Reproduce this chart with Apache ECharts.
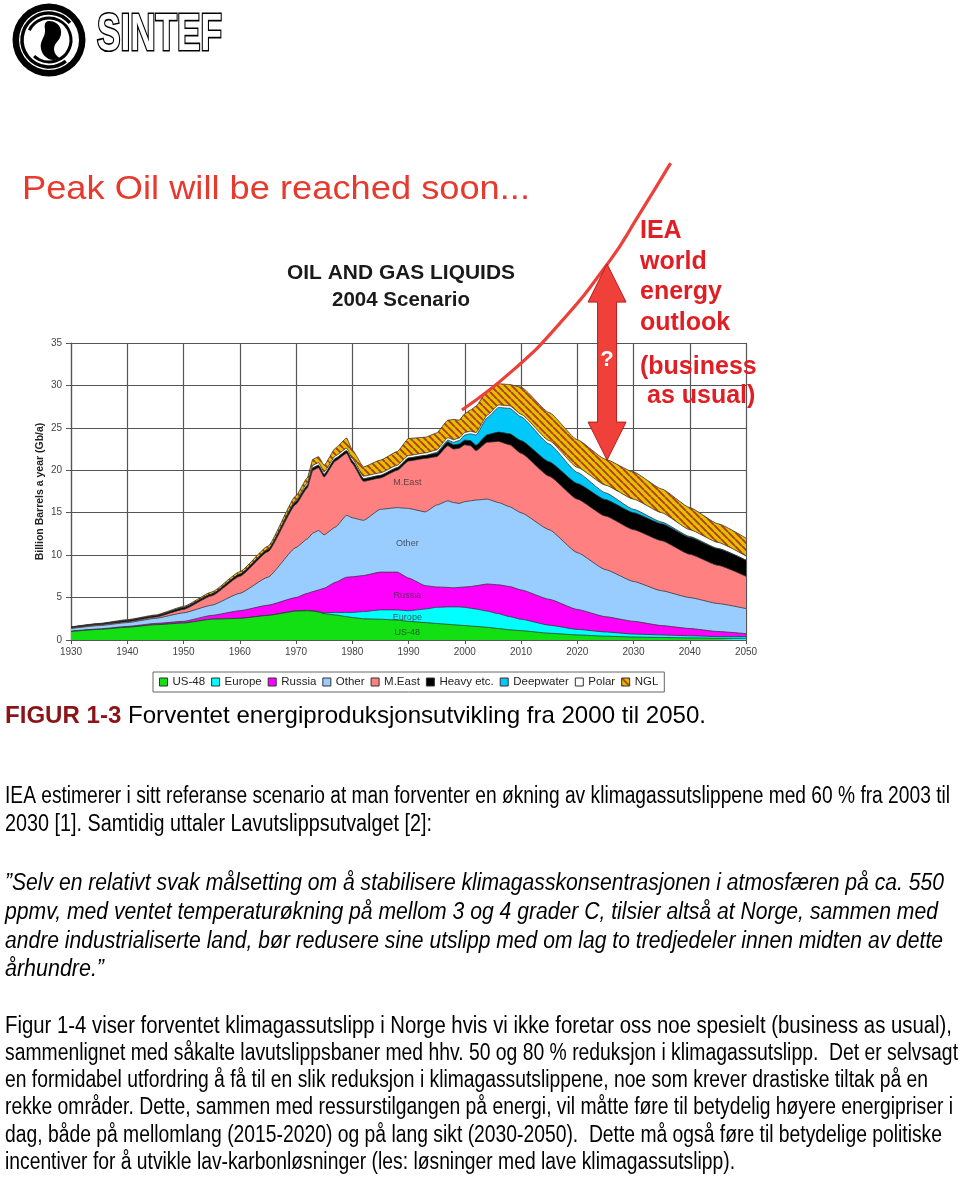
<!DOCTYPE html>
<html><head><meta charset="utf-8">
<script src="https://cdn.jsdelivr.net/npm/echarts@6/dist/echarts.min.js"></script>
<style>html,body{margin:0;padding:0;background:#fff}#c{width:960px;height:1178px}</style>
</head><body><div id="c"></div>
<script>
// ---------- DATA ----------
const years = [1930,1935,1940,1945,1950,1955,1960,1965,1970,1972,1973,1974,1975,1977,1979,1980,1982,1985,1988,1990,1993,1995,1997,1998,1999,2000,2001,2002,2004,2006,2008,2010,2015,2020,2025,2030,2035,2040,2045,2050];
const us48 = [1.0,1.25,1.5,1.8,2.0,2.45,2.55,2.9,3.4,3.45,3.4,3.3,3.1,2.95,2.75,2.65,2.5,2.45,2.35,2.2,2.05,1.95,1.85,1.8,1.75,1.7,1.65,1.6,1.5,1.35,1.2,1.1,0.8,0.6,0.45,0.35,0.3,0.25,0.2,0.2];
const europe = [0,0,0,0,0,0,0,0,0.05,0.05,0.05,0.05,0.1,0.3,0.5,0.6,0.85,1.1,1.2,1.25,1.6,1.9,2.05,2.1,2.15,2.15,2.1,2.05,1.9,1.75,1.55,1.35,0.95,0.65,0.5,0.35,0.3,0.25,0.2,0.2];
const russia = [0.05,0.05,0.1,0.15,0.2,0.45,0.9,1.2,1.55,2.0,2.25,2.55,2.9,3.55,4.15,4.2,4.25,4.45,4.45,3.85,2.75,2.4,2.3,2.25,2.3,2.4,2.55,2.75,3.2,3.4,3.55,3.45,3.05,2.35,1.8,1.5,1.1,0.85,0.6,0.35];
const other = [0.3,0.4,0.45,0.6,1.0,1.2,2.05,3.3,5.9,6.4,6.9,7.0,6.3,6.5,7.3,6.95,6.5,7.4,7.6,8.2,8.7,9.65,10.2,10.05,9.9,10.05,10.1,10.1,10.0,9.7,9.4,9.1,8.2,6.7,5.55,4.7,4.1,3.65,3.3,2.95];
const meast = [0.05,0.1,0.1,0.15,0.4,1.1,2.0,3.0,5.1,6.0,7.4,7.4,6.8,7.8,7.3,6.4,4.6,3.7,4.4,5.6,6.3,5.7,6.5,6.3,6.5,6.7,6.5,5.8,6.7,7.2,7.3,7.0,6.3,6.3,6.3,6.1,5.9,5.1,4.5,3.8];
const heavy = [0.1,0.1,0.15,0.15,0.2,0.2,0.25,0.25,0.3,0.3,0.3,0.3,0.3,0.3,0.3,0.3,0.3,0.3,0.3,0.35,0.35,0.4,0.45,0.5,0.5,0.55,0.6,0.65,0.9,1.1,1.3,1.5,1.7,1.85,1.95,2.0,2.0,2.0,1.95,1.9];
const deepwater = [0,0,0,0,0,0,0,0,0,0,0,0,0,0,0,0,0,0,0,0,0,0.1,0.2,0.3,0.4,0.6,0.8,1.2,2.0,2.9,3.0,2.8,2.1,1.3,0.8,0.4,0.2,0.1,0.05,0];
const polar = [0,0,0,0,0,0,0,0,0.15,0.3,0.3,0.3,0.3,0.3,0.3,0.3,0.3,0.3,0.3,0.3,0.3,0.3,0.3,0.3,0.3,0.3,0.3,0.3,0.3,0.3,0.3,0.3,0.4,0.6,0.9,1.2,1.1,0.8,0.7,0.5];
const ngl = [0.05,0.05,0.1,0.1,0.15,0.25,0.3,0.4,0.55,0.6,0.7,0.7,0.8,0.9,1.2,1.0,1.1,1.5,1.6,2.0,1.85,2.0,2.05,2.4,2.1,2.2,2.5,3.1,2.9,2.5,2.5,3.2,3.3,3.25,3.05,3.2,2.8,2.6,2.2,2.1];
const seriesNames = ['US-48','Europe','Russia','Other','M.East','Heavy etc.','Deepwater','Polar','NGL'];
// IEA "business as usual" outlook line (year, Gb/a)
const ieaYears = [1999.5,2008.6,2017.0,2025.9,2030.7,2036.6];
const ieaValues = [27.1,31.8,37.4,44.8,49.8,56.2];
// in-chart region labels
const regionLabelYear = 1989.8;
const regionLabels = ['M.East','Other','Russia','Europe','US-48'];
const regionLabelValues = [18.5,11.4,5.3,2.7,0.85];
const xTicks = [1930,1940,1950,1960,1970,1980,1990,2000,2010,2020,2030,2040,2050];
const yTicks = [0,5,10,15,20,25,30,35];

// ---------- TEXT ----------
const bodyLines = [
  {t:'IEA estimerer i sitt referanse scenario at man forventer en økning av klimagassutslippene med 60 % fra 2003 til', y:797, end:950},
  {t:'2030 [1]. Samtidig uttaler Lavutslippsutvalget [2]:', y:825, end:432},
  {t:'\u201DSelv en relativt svak målsetting om å stabilisere klimagasskonsentrasjonen i atmosfæren på ca. 550', y:884, end:944, it:true},
  {t:'ppmv, med ventet temperaturøkning på mellom 3 og 4 grader C, tilsier altså at Norge, sammen med', y:913, end:938, it:true},
  {t:'andre industrialiserte land, bør redusere sine utslipp med om lag to tredjedeler innen midten av dette', y:942, end:943, it:true},
  {t:'århundre.\u201D', y:970, end:104, it:true},
  {t:'Figur 1-4 viser forventet klimagassutslipp i Norge hvis vi ikke foretar oss noe spesielt (business as usual),', y:1027, end:952},
  {t:'sammenlignet med såkalte lavutslippsbaner med hhv. 50 og 80 % reduksjon i klimagassutslipp.  Det er selvsagt', y:1054, end:958},
  {t:'en formidabel utfordring å få til en slik reduksjon i klimagassutslippene, noe som krever drastiske tiltak på en', y:1081, end:928},
  {t:'rekke områder. Dette, sammen med ressurstilgangen på energi, vil måtte føre til betydelig høyere energipriser i', y:1108, end:953},
  {t:'dag, både på mellomlang (2015-2020) og på lang sikt (2030-2050).  Dette må også føre til betydelige politiske', y:1136, end:942},
  {t:'incentiver for å utvikle lav-karbonløsninger (les: løsninger med lave klimagassutslipp).', y:1163, end:735}
];

// ---------- RENDER ----------
const FF = '"Liberation Sans", Arial, sans-serif';
const mctx = document.createElement('canvas').getContext('2d');
function measure(text, size, weight, style){
  mctx.font = (style||'normal') + ' ' + (weight||'normal') + ' ' + size + 'px ' + FF;
  return mctx.measureText(text).width;
}
function fitText(text, x, y, targetW, size, opt){
  opt = opt || {};
  const w = measure(text, size, opt.weight, opt.style);
  return {type:'text', x:x, y:y, scaleX: targetW / w, z: opt.z || 50,
    style:{text:text, fill: opt.fill || '#000', fontSize:size, fontFamily:FF,
      fontWeight: opt.weight || 'normal', fontStyle: opt.style || 'normal',
      textAlign:'left', textVerticalAlign:'middle',
      stroke: opt.stroke || null, lineWidth: opt.lineWidth || 0}};
}
function hatch(){
  const n = 7, c = document.createElement('canvas'); c.width = n; c.height = n;
  const g = c.getContext('2d');
  g.fillStyle = '#e4bf00'; g.fillRect(0,0,n,n);
  g.strokeStyle = '#b23c10'; g.lineWidth = 1.9;
  g.beginPath();
  for (const o of [-n,0,n]) { g.moveTo(o,0); g.lineTo(o+n,n); }
  g.stroke();
  return c;
}
function bez(p0,p1,p2,p3,steps){
  const out=[];
  for(let i=1;i<=steps;i++){const t=i/steps,u=1-t;
    out.push([u*u*u*p0[0]+3*u*u*t*p1[0]+3*u*t*t*p2[0]+t*t*t*p3[0],
              u*u*u*p0[1]+3*u*u*t*p1[1]+3*u*t*t*p2[1]+t*t*t*p3[1]]);}
  return out;
}
const hatchImg = hatch();
const colors = ['#12e012','#00ffff','#ff00ff','#99ccff','#ff8080','#000000','#00c8f8','#ffffff',{image:hatchImg, repeat:'repeat'}];
const values = [us48,europe,russia,other,meast,heavy,deepwater,polar,ngl];

// cumulative tops (stacked layers drawn as overlapping opaque areas)
const cum = [];
let run = years.map(()=>0);
values.forEach(arr=>{ run = run.map((v,k)=>Math.round((v+arr[k])*1000)/1000); cum.push(run.slice()); });

const chart = echarts.init(document.getElementById('c'), null, {renderer:'canvas'});
const series = seriesNames.map((name,i)=>({
  name, type:'line', symbol:'none', smooth:0.15, smoothMonotone:'x',
  data: years.map((y,k)=>[y, cum[i][k]]),
  lineStyle:{color:'#333', width:0.8},
  itemStyle:{color: colors[i]},
  areaStyle:{color: colors[i], opacity:1, origin:'start'},
  emphasis:{disabled:true}, z: 20 - i
}));
series.push({
  name:'IEA', type:'line', symbol:'none', smooth:true, clip:false,
  data: ieaYears.map((y,k)=>[y, ieaValues[k]]),
  lineStyle:{color:'#ec4038', width:3.2}, z:30, emphasis:{disabled:true}
});
series.push({
  name:'labels', type:'scatter', symbolSize:0, z:31,
  data: regionLabels.map((t,k)=>[regionLabelYear, regionLabelValues[k], t]),
  label:{show:true, position:'inside', formatter:p=>p.value[2], fontSize:9, color:'#333', fontFamily:FF},
  emphasis:{disabled:true}
});

const legendData = seriesNames.map((n,i)=>({name:n, icon:'rect',
  itemStyle:{color: colors[i], borderColor:'#333', borderWidth:1}}));

chart.setOption({
  animation:false,
  backgroundColor:'#fff',
  textStyle:{fontFamily:FF},
  grid:{left:71, right:214, top:343, bottom:538, containLabel:false},
  legend:{data:legendData, left:153, top:672, itemWidth:8, itemHeight:8, itemGap:6,
    padding:[4,6], borderColor:'#666', borderWidth:1, backgroundColor:'#fff',
    textStyle:{fontSize:11.5, color:'#222', fontFamily:FF}, selectedMode:false},
  xAxis:{type:'value', min:xTicks[0], max:xTicks[xTicks.length-1], interval:10,
    axisLine:{show:true, lineStyle:{color:'#555', width:1.2}},
    axisTick:{show:true, length:4, lineStyle:{color:'#555'}},
    axisLabel:{fontSize:10, color:'#444', margin:7, formatter:v=>String(v)},
    splitLine:{show:true, lineStyle:{color:'#555', width:1.2}}},
  yAxis:{type:'value', min:yTicks[0], max:yTicks[yTicks.length-1], interval:5,
    name:'Billion Barrels a year (Gb/a)', nameLocation:'middle', nameGap:25, nameRotate:90,
    nameMoveOverlap:false,
    nameTextStyle:{fontSize:10.5, fontWeight:'bold', color:'#222'},
    axisLine:{show:true, lineStyle:{color:'#555', width:1.2}},
    axisTick:{show:true, length:5, lineStyle:{color:'#555'}},
    axisLabel:{fontSize:10, color:'#444', margin:9},
    splitLine:{show:true, lineStyle:{color:'#555', width:1.2}}},
  series
});

// annotations anchored to chart coordinates
const tipBottom = chart.convertToPixel({gridIndex:0}, [2025.3, 21.2]);
const tipTop = chart.convertToPixel({gridIndex:0}, [2025.3, 44.3]);
const cx = tipBottom[0], tb = tipBottom[1], tt = tipTop[1];
const hw = 19, hh = 38, sw = 9.5;
const arrowPts = [[cx,tt],[cx+hw,tt+hh],[cx+sw,tt+hh],[cx+sw,tb-hh],[cx+hw,tb-hh],[cx,tb],[cx-hw,tb-hh],[cx-sw,tb-hh],[cx-sw,tt+hh],[cx-hw,tt+hh]];

const g = [];
// logo
g.push({type:'circle', shape:{cx:49, cy:40, r:36.5}, style:{fill:'#000'}});
g.push({type:'circle', shape:{cx:49, cy:40, r:30}, style:{fill:'#fff'}});
g.push({type:'arc', shape:{cx:49, cy:40, r:27, startAngle:0.9, endAngle:5.6}, style:{stroke:'#000', lineWidth:3.5, fill:null}});
g.push({type:'arc', shape:{cx:49, cy:40, r:22, startAngle:3.6, endAngle:8.6}, style:{stroke:'#000', lineWidth:3, fill:null}});
const comma = [[49,21]].concat(
  bez([49,21],[61,21],[65,34],[57,42],8), bez([57,42],[51,48],[55,56],[60,58],8),
  bez([60,58],[52,63],[43,58],[41,49],8), bez([41,49],[39,41],[46,37],[45,29],8),
  bez([45,29],[44,25],[45,21],[49,21],6));
g.push({type:'polygon', shape:{points:comma}, style:{fill:'#000'}});
g.push(fitText('SINTEF', 97, 36, 125, 52, {weight:'bold', fill:'#fff', stroke:'#000', lineWidth:3.2}));
// headline
g.push(fitText('Peak Oil will be reached soon...', 22, 190, 508, 33, {fill:'#e63a2e'}));
g.push(fitText('OIL AND GAS LIQUIDS', 287, 273, 228, 21, {weight:'bold', fill:'#1a1a1a'}));
g.push(fitText('2004 Scenario', 332, 300, 138, 21, {weight:'bold', fill:'#1a1a1a'}));
// IEA text
const ieaTxt = [['IEA',640,231],['world',640,262],['energy',640,292],['outlook',640,323],['(business',640,367],['as usual)',647,396]];
ieaTxt.forEach(a=>g.push({type:'text', x:a[1], y:a[2], z:60, style:{text:a[0], fill:'#e01e24', fontSize:25, fontWeight:'bold', fontFamily:FF, textAlign:'left', textVerticalAlign:'middle'}}));
// arrow
g.push({type:'polygon', z:60, shape:{points:arrowPts}, style:{fill:'#f0403a', stroke:'#b81c1c', lineWidth:1}});
g.push({type:'text', x:cx, y:(tt+tb)/2 - 2, z:61, style:{text:'?', fill:'#fff', fontSize:22, fontWeight:'bold', fontFamily:FF, textAlign:'center', textVerticalAlign:'middle'}});
// caption
(function(){
  const a = 'FIGUR 1-3', b = ' Forventet energiproduksjonsutvikling fra 2000 til 2050.';
  const fs = 24;
  const wa = measure(a, fs, 'bold'), wb = measure(b, fs);
  const s = (706 - 5) / (wa + wb);
  g.push({type:'text', x:5, y:716, scaleX:s, style:{text:a, fill:'#8a1418', fontSize:fs, fontWeight:'bold', fontFamily:FF, textAlign:'left', textVerticalAlign:'middle'}});
  g.push({type:'text', x:5 + wa*s, y:716, scaleX:s, style:{text:b, fill:'#000', fontSize:fs, fontFamily:FF, textAlign:'left', textVerticalAlign:'middle'}});
})();
bodyLines.forEach(l=>g.push(fitText(l.t, 5, l.y, l.end - 5, 23, {style: l.it ? 'italic' : 'normal', fill:'#000'})));

chart.setOption({graphic:{elements:g}});
</script>
</body></html>
